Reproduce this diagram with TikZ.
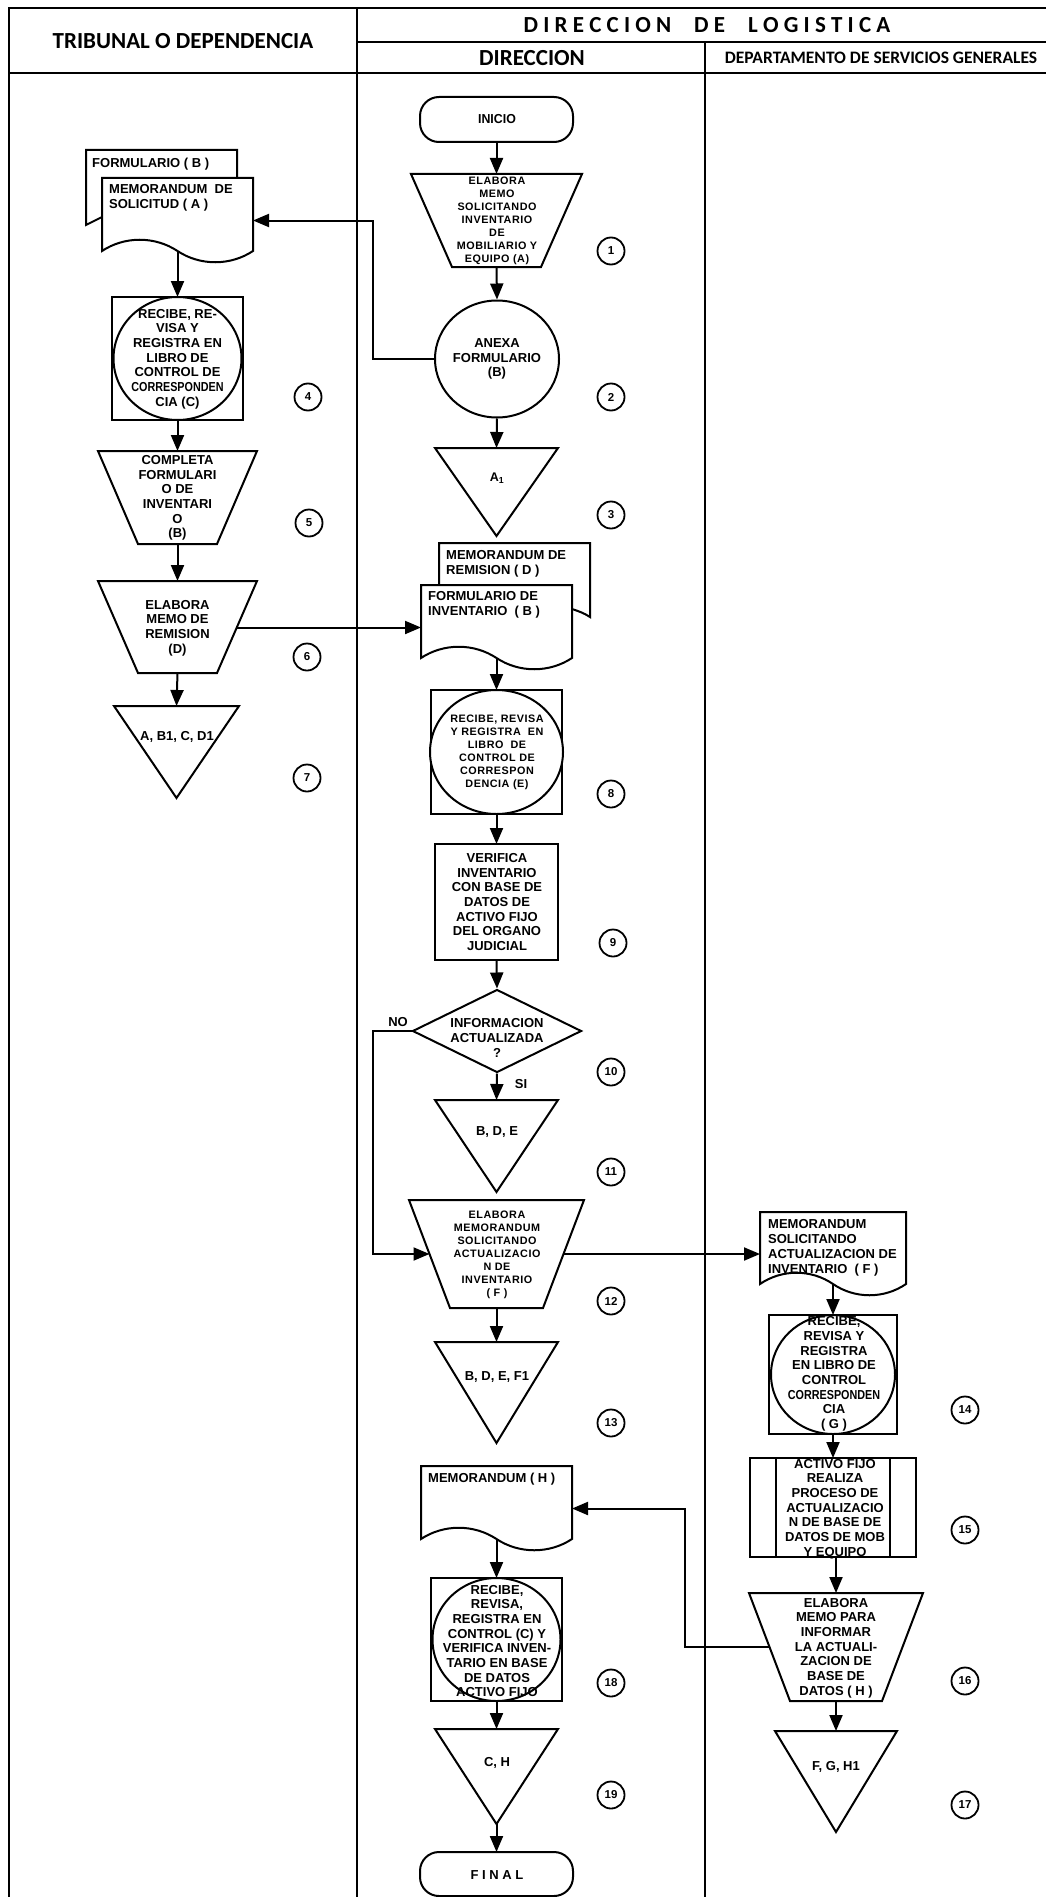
\documentclass[tikz,border=0pt]{standalone}
\usepackage{fontspec}
\setmainfont{Liberation Sans}
\newfontfamily\headf{Carlito}
\newfontfamily\spacedf[LetterSpace=5]{Liberation Sans}
\usetikzlibrary{arrows.meta,fit,shapes.geometric,calc}
\tikzset{
  x=1pt,y=-1pt,
  bound/.style={inner sep=0pt,outer sep=0pt,fit={#1}},
  shp/.style={draw=black,line width=2pt,fill=white,line join=miter},
  arr/.style={draw=black,line width=2pt,-{Triangle[length=16pt,width=13pt]}},
  lane/.style={draw=black,line width=2.6pt},
  txt/.style={align=center,inner sep=0pt,font=\fontsize{13}{14.7}\selectfont\bfseries},
  stxt/.style={align=center,inner sep=0pt,font=\fontsize{10.8}{13}\selectfont\spacedf\bfseries},
  ltxt/.style={align=left,anchor=west,inner sep=0pt,font=\fontsize{13}{15}\selectfont\bfseries},
  hd/.style={inner sep=0pt,font=\headf\bfseries},
  num/.style={circle,draw=black,line width=1.8pt,minimum size=27pt,inner sep=0pt,font=\fontsize{11.5}{12}\selectfont\bfseries},
  oval/.style={shp,ellipse,inner sep=0pt},
  dia/.style={shp,diamond,inner sep=0pt},
  box/.style={shp,rectangle,inner sep=0pt,outer sep=0pt},
  term/.style={shp,rectangle,rounded corners=19pt,inner sep=0pt,outer sep=0pt},
}
% name, left, top, right, bottom, inset of the lower corners
\newcommand\Trap[6]{%
  \node[bound={(#2,#3)(#4,#5)}] (#1) {};
  \draw[shp] (#1.north west) -- (#1.north east) -- (#4-#6,#5) -- (#2+#6,#5) -- cycle;
  \coordinate (#1-w) at ({#2+#6/2},{(#3+#5)/2});
  \coordinate (#1-e) at ({#4-#6/2},{(#3+#5)/2});
}
% name, left, top, right, bottom
\newcommand\Tri[5]{%
  \node[bound={(#2,#3)(#4,#5)}] (#1) {};
  \draw[shp] (#1.north west) -- (#1.north east) -- (#1.south) -- cycle;
}
% name, left, top, right, bottom (bottom of the wave)
\newcommand\Doc[5]{%
  \node[bound={(#2,#3)(#4,#5)}] (#1) {};
  \draw[shp] (#1.north west) -- (#1.north east) -- (#4,#5-12)
    .. controls ({#2+.85*(#4-#2)},#5+3) and ({#2+.65*(#4-#2)},#5+3) .. ({#2+.5*(#4-#2)},#5-12)
    .. controls ({#2+.35*(#4-#2)},#5-27) and ({#2+.15*(#4-#2)},#5-27) .. (#2,#5-12) -- cycle;
}
\begin{document}
\begin{tikzpicture}
\useasboundingbox (0,0) rectangle (1046,1897);
% lanes
\draw[lane] (1046,8) -- (9,8) -- (9,1897);
\draw[lane] (357,8) -- (357,1897);
\draw[lane] (705,42) -- (705,1897);
\draw[lane] (357,42) -- (1046,42);
\draw[lane] (9,73) -- (1046,73);
\node[hd,font=\fontsize{23}{25}\selectfont\headf\bfseries] (h1) at (183,41) {TRIBUNAL O DEPENDENCIA};
\node[hd,font=\fontsize{23}{25}\selectfont\headf\bfseries] (h2) at (707,25) {D I R E C C I O N\quad D E\quad L O G I S T I C A};
\node[hd,font=\fontsize{23}{25}\selectfont\headf\bfseries] (h3) at (532,58) {DIRECCION};
\node[hd,font=\fontsize{17.5}{19}\selectfont\headf\bfseries] (h4) at (881,58) {DEPARTAMENTO DE SERVICIOS GENERALES};

% first lane
\node[bound={(86,150)(237,225)}] (bkB) {};
\draw[shp] (102,217) -- (bkB.south west) -- (bkB.north west) -- (bkB.north east) -- (237,180);
\Doc{docA}{102}{178}{253}{263}
\node[box,fit={(112,297)(243,420)}] (pC) {};
\node[oval,minimum width=128pt,minimum height=123pt] (eC) at (pC.center) {};
\Trap{t5}{98}{451}{257}{544}{40}
\Trap{t6}{98}{581}{257}{673}{40}
\Tri{t7}{114}{706}{239}{798}

% second lane
\node[term,fit={(420,97)(573,142)}] (ini) {};
\Trap{t1}{411}{174}{582}{267}{41}
\node[oval,minimum width=124pt,minimum height=117pt] (anexa) at (497,359) {};
\Tri{t3}{435}{448}{558}{536}
\node[bound={(439,543)(590,617)}] (bkD) {};
\draw[shp] (439,586) -- (bkD.north west) -- (bkD.north east) -- (bkD.south east) .. controls (584,613) and (578,611) .. (572,609);
\Doc{docF}{421}{585}{572}{670}
\node[box,fit={(431,690)(562,814)}] (pE) {};
\node[oval,minimum width=133pt,minimum height=124pt] (eE) at (pE.center) {};
\node[box,fit={(435,844)(558,960)}] (p9) {};
\node[dia,minimum width=169pt,minimum height=83pt] (d10) at (497,1031) {};
\Tri{t11}{435}{1100}{558}{1192}
\Trap{t12}{409}{1200}{584}{1308}{41}
\Tri{t13}{435}{1342}{558}{1443}
\Doc{docH}{421}{1466}{572}{1551}
\node[box,fit={(431,1578)(562,1701)}] (pH) {};
\node[oval,minimum width=128pt,minimum height=123pt] (eH) at (pH.center) {};
\Tri{t19}{435}{1729}{558}{1824}
\node[term,fit={(420,1852)(573,1896)}] (fin) {};

% third lane
\Doc{docG}{760}{1212}{906}{1296}
\node[box,fit={(769,1315)(897,1434)}] (pG) {};
\node[oval,minimum width=124pt,minimum height=119pt] (eG) at (pG.center) {};
\node[box,fit={(750,1458)(916,1557)}] (p15) {};
\node[bound={(776,1458)(890,1557)}] (p15i) {};
\draw[shp] (p15i.north west) -- (p15i.south west) (p15i.north east) -- (p15i.south east);
\Trap{t16}{749}{1593}{923}{1701}{41}
\Tri{t17}{775}{1731}{897}{1832}

% elbows of the side connectors
\coordinate (elA) at (373,359);
\coordinate (elN) at (373,1031);
\coordinate (elH) at (685,1647);

% connectors
\draw[arr] (ini.south) -- (t1.north);
\draw[arr] (t1.south) -- (anexa.north);
\draw[arr] (anexa.south) -- (t3.north);
\draw[arr] (anexa.west) -- (elA) |- (docA.east);
\draw[arr] ([yshift=12pt]docA.south -| pC.north) -- (pC.north);
\draw[arr] (pC.south) -- (t5.north);
\draw[arr] (t5.south) -- (t6.north);
\draw[arr] (t6.south) -- (t7.north);
\draw[arr] (t6-e |- docF.west) -- (docF.west);
\draw[arr] ([yshift=12pt]docF.south) -- (pE.north);
\draw[arr] (pE.south) -- (p9.north);
\draw[arr] (p9.south) -- (d10.north);
\draw[arr] (d10.south) -- (t11.north);
\draw[arr] (d10.west) -- (elN) |- (t12-w);
\draw[arr] (t12.south) -- (t13.north);
\draw[arr] (t12-e |- docG.west) -- (docG.west);
\draw[arr] ([yshift=12pt]docG.south) -- (pG.north);
\draw[arr] (pG.south) -- (p15.north);
\draw[arr] (t16.north |- p15.south) -- (t16.north);
\draw[arr] (t16.south) -- (t17.north);
\draw[arr] (t16-w) -- (elH) |- (docH.east);
\draw[arr] ([yshift=12pt]docH.south) -- (pH.north);
\draw[arr] (pH.south) -- (t19.north);
\draw[arr] (t19.south) -- (fin.north);

% texts
\node[txt] (xini) at (497,119) {\scalebox{.95}[1]{INICIO}};
\node[stxt] (x1) at (497,221) {ELABORA\\MEMO\\SOLICITANDO\\INVENTARIO\\DE\\MOBILIARIO Y\\EQUIPO (A)};
\node[txt] (x2) at (497,359) {ANEXA\\FORMULARIO\\(B)};
\node[txt,font=\fontsize{12.5}{14}\selectfont\bfseries] (x3) at (497,478) {A\textsubscript{1}};
\node[ltxt] (xB) at (92,164) {FORMULARIO ( B )};
\node[ltxt] (xA) at (109,198) {MEMORANDUM\ \ DE\\SOLICITUD ( A )};
\node[txt] (xC) at (177.5,359) {RECIBE, RE-\\VISA Y\\REGISTRA EN\\LIBRO DE\\CONTROL DE\\\scalebox{.83}[1]{CORRESPONDEN}\\CIA (C)};
\node[txt] (x5) at (177.5,498) {COMPLETA\\FORMULARI\\O DE\\INVENTARI\\O\\(B)};
\node[txt] (x6) at (177.5,628) {ELABORA\\MEMO DE\\REMISION\\(D)};
\node[txt] (x7) at (177,737) {A, B1, C, D1};
\node[ltxt] (xD) at (446,564) {MEMORANDUM DE\\REMISION ( D )};
\node[ltxt] (xF) at (428,605) {FORMULARIO DE\\INVENTARIO\ \ ( B )};
\node[stxt] (x8) at (497,752) {RECIBE, REVISA\\Y REGISTRA\ \ EN\\LIBRO\ \ DE\\CONTROL DE\\CORRESPON\\DENCIA (E)};
\node[txt] (x9) at (497,902) {VERIFICA\\INVENTARIO\\CON BASE DE\\DATOS DE\\ACTIVO FIJO\\DEL ORGANO\\JUDICIAL};
\node[txt] (x10) at (497,1038) {INFORMACION\\ACTUALIZADA\\?};
\node[txt] (xno) at (398,1022) {NO};
\node[txt] (xsi) at (521,1084) {SI};
\node[txt] (x11) at (497,1132) {B, D, E};
\node[stxt] (x12) at (497,1255) {ELABORA\\MEMORANDUM\\SOLICITANDO\\ACTUALIZACIO\\N DE\\INVENTARIO\\( F )};
\node[txt] (x13) at (497,1377) {B, D, E, F1};
\node[ltxt] (xG) at (768,1248) {MEMORANDUM\\SOLICITANDO\\ACTUALIZACION DE\\INVENTARIO\ \ ( F )};
\node[txt] (x14) at (834,1374) {RECIBE,\\REVISA Y\\REGISTRA\\EN LIBRO DE\\CONTROL\\\scalebox{.83}[1]{CORRESPONDEN}\\CIA\\( G )};
\node[txt] (x15) at (835,1509) {ACTIVO FIJO\\REALIZA\\PROCESO DE\\ACTUALIZACIO\\N DE BASE DE\\DATOS DE MOB\\Y EQUIPO};
\node[txt] (x16) at (836,1648) {ELABORA\\MEMO PARA\\INFORMAR\\LA ACTUALI-\\ZACION DE\\BASE DE\\DATOS ( H )};
\node[txt] (x17) at (836,1767) {F, G, H1};
\node[ltxt] (xH) at (428,1479) {MEMORANDUM ( H )};
\node[txt] (x18) at (497,1641) {RECIBE,\\REVISA,\\REGISTRA EN\\CONTROL (C) Y\\VERIFICA INVEN-\\TARIO EN BASE\\DE DATOS\\ACTIVO FIJO};
\node[txt] (x19) at (497,1763) {C, H};
\node[txt,font=\fontsize{13}{14}\selectfont\bfseries] (xfin) at (497,1875) {F I N A L};

% step numbers
\node[num] (n1) at (611,251) {1};
\node[num] (n2) at (611,397) {2};
\node[num] (n3) at (611,515) {3};
\node[num] (n4) at (308,397) {4};
\node[num] (n5) at (309,523) {5};
\node[num] (n6) at (307,657) {6};
\node[num] (n7) at (307,778) {7};
\node[num] (n8) at (611,794) {8};
\node[num] (n9) at (613,943) {9};
\node[num] (n10) at (611,1072) {10};
\node[num] (n11) at (611,1172) {11};
\node[num] (n12) at (611,1301) {12};
\node[num] (n13) at (611,1423) {13};
\node[num] (n14) at (965,1410) {14};
\node[num] (n15) at (965,1530) {15};
\node[num] (n16) at (965,1681) {16};
\node[num] (n17) at (965,1805) {17};
\node[num] (n18) at (611,1683) {18};
\node[num] (n19) at (611,1795) {19};
\end{tikzpicture}
\end{document}
